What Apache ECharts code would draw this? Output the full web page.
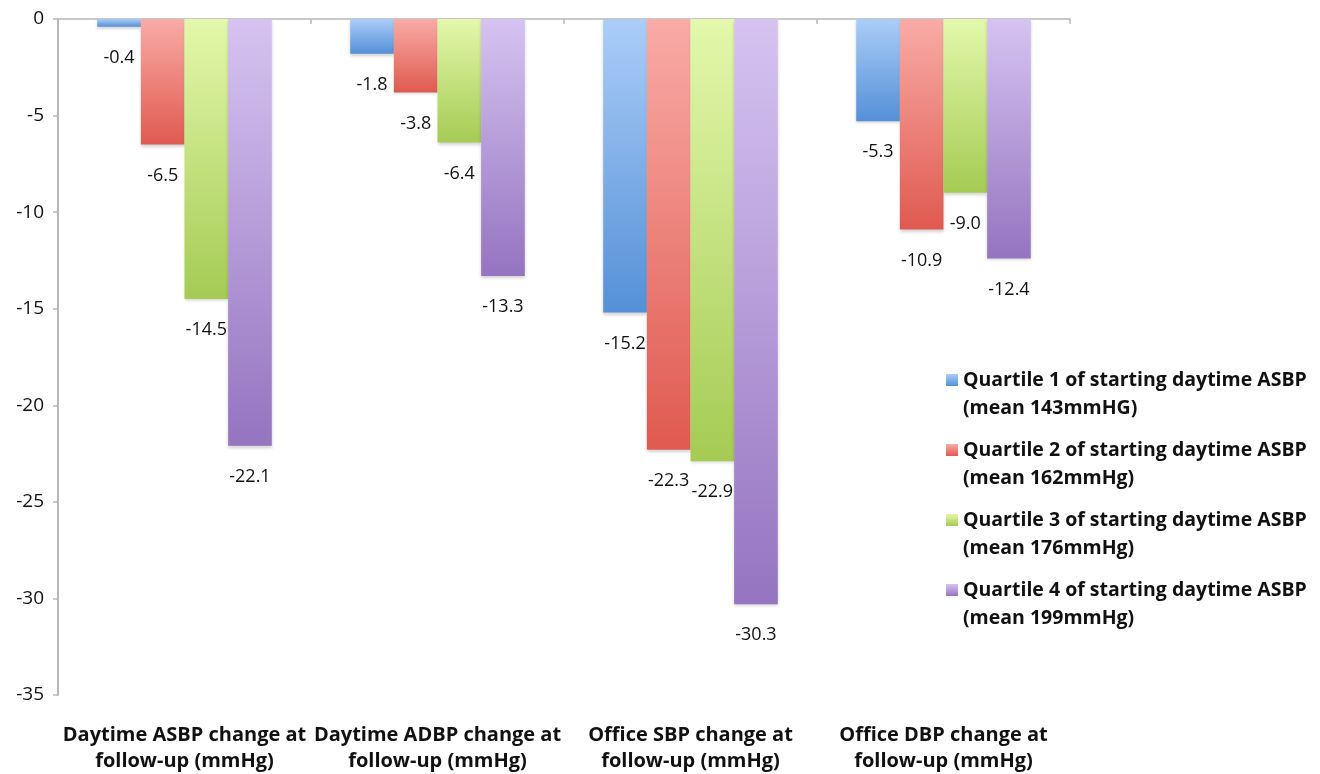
<!DOCTYPE html>
<html>
<head>
<meta charset="utf-8">
<script src="https://cdn.jsdelivr.net/npm/echarts@6/dist/echarts.min.js"></script>
<style>
html,body{margin:0;padding:0;background:#fff;}
#chart{width:1320px;height:774px;}
</style>
</head>
<body>
<div id="chart"></div>
<script>
const categories = [
  "Daytime ASBP change at\nfollow-up (mmHg)",
  "Daytime ADBP change at\nfollow-up (mmHg)",
  "Office SBP change at\nfollow-up (mmHg)",
  "Office DBP change at\nfollow-up (mmHg)"
];
const seriesNames = [
  "Quartile 1 of starting daytime ASBP\n(mean 143mmHG)",
  "Quartile 2 of starting daytime ASBP\n(mean 162mmHg)",
  "Quartile 3 of starting daytime ASBP\n(mean 176mmHg)",
  "Quartile 4 of starting daytime ASBP\n(mean 199mmHg)"
];
const quartile1 = [-0.4, -1.8, -15.2, -5.3];
const quartile2 = [-6.5, -3.8, -22.3, -10.9];
const quartile3 = [-14.5, -6.4, -22.9, -9.0];
const quartile4 = [-22.1, -13.3, -30.3, -12.4];
const yTicks = [0, -5, -10, -15, -20, -25, -30, -35];

const values = [quartile1, quartile2, quartile3, quartile4];
const gradients = [
  ['#abcdf8', '#5490d7'],
  ['#f9aba6', '#df5a50'],
  ['#e3f8ab', '#a5cb54'],
  ['#d6c3f1', '#9574c0']
];
const FONT = '"Open Sans", sans-serif';

function grad(i) {
  return new echarts.graphic.LinearGradient(0, 0, 0, 1, [
    {offset: 0, color: gradients[i][0]},
    {offset: 1, color: gradients[i][1]}
  ]);
}

const chart = echarts.init(document.getElementById('chart'));
const series = values.map((v, i) => ({
  name: seriesNames[i],
  type: 'bar',
  xAxisIndex: 0,
  data: v,
  barGap: '0%',
  barCategoryGap: '31%',
  itemStyle: {
    color: grad(i),
    shadowColor: 'rgba(0,0,0,0.18)',
    shadowBlur: 3,
    shadowOffsetY: 2
  },
  label: {
    show: true,
    position: 'bottom',
    distance: 22,
    color: '#111',
    fontFamily: FONT,
    fontSize: 18,
    formatter: p => p.value.toFixed(1)
  }
}));

chart.setOption({
  animation: false,
  backgroundColor: '#fff',
  grid: {left: 58, top: 19, right: 250, bottom: 73},
  legend: {
    orient: 'vertical',
    left: 946,
    top: 338,
    padding: 0,
    itemWidth: 12,
    itemHeight: 12,
    itemGap: -14,
    icon: 'rect',
    formatter: name => '\n' + name,
    data: seriesNames.map((n, i) => ({name: n, itemStyle: {color: grad(i)}})),
    textStyle: {
      fontFamily: FONT,
      fontSize: 19.5,
      fontWeight: 'bold',
      color: '#111',
      lineHeight: 28
    }
  },
  xAxis: [
    {
      type: 'category',
      data: categories,
      position: 'top',
      axisLine: {show: true, onZero: false, lineStyle: {color: '#b8b8b8', width: 1.5}},
      axisTick: {show: true, inside: true, length: 5, lineStyle: {color: '#b8b8b8', width: 1.5}},
      axisLabel: {show: false}
    },
    {
      type: 'category',
      data: categories,
      position: 'bottom',
      axisLine: {show: false},
      axisTick: {show: false},
      axisLabel: {
        show: true,
        margin: 27,
        fontFamily: FONT,
        fontSize: 20,
        fontWeight: 'bold',
        color: '#111',
        lineHeight: 26,
        interval: 0
      }
    }
  ],
  yAxis: {
    type: 'value',
    min: -35,
    max: 0,
    interval: 5,
    axisLine: {show: true, lineStyle: {color: '#b8b8b8', width: 2}},
    axisTick: {show: true, length: 5, lineStyle: {color: '#b8b8b8', width: 1.5}},
    splitLine: {show: false},
    axisLabel: {
      margin: 14,
      fontFamily: FONT,
      fontSize: 19,
      color: '#111',
      formatter: v => String(v)
    }
  },
  series: series
});
</script>
</body>
</html>
